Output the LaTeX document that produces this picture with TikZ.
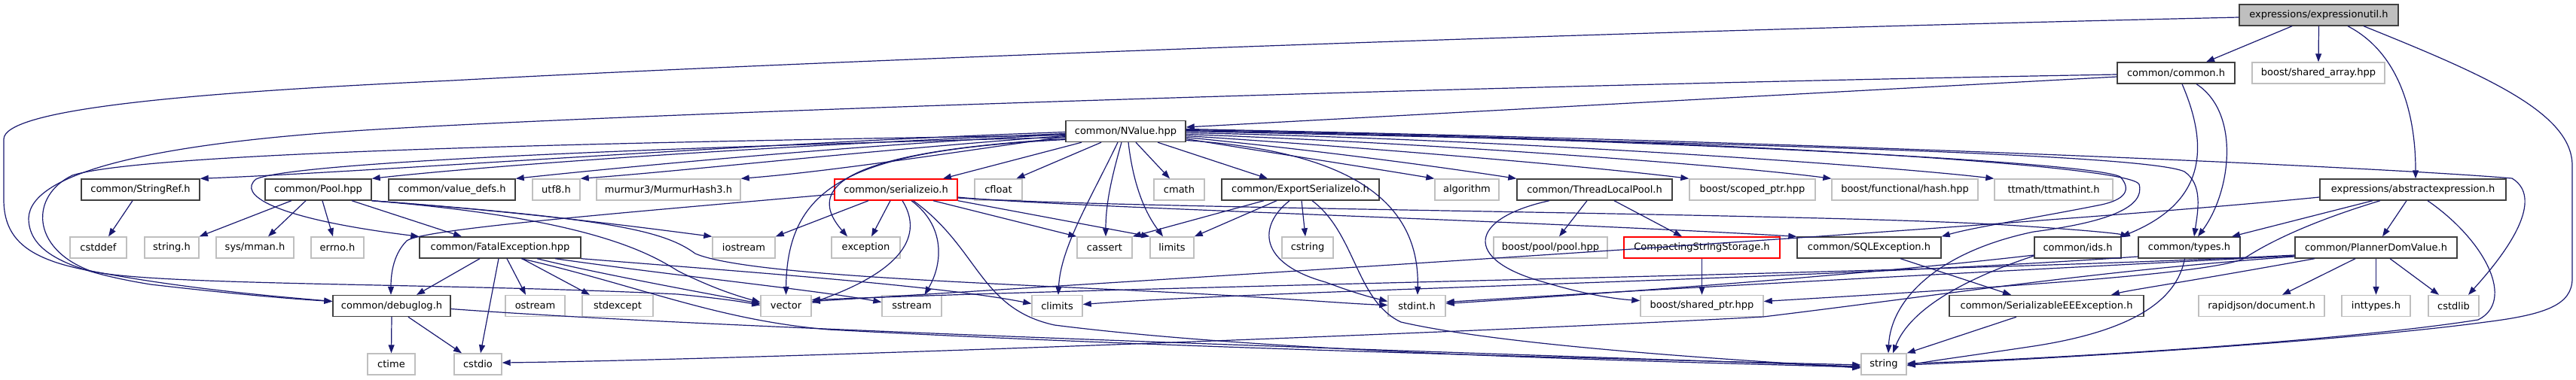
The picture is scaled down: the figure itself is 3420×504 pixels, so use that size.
\documentclass[tikz,border=0pt]{standalone}
\usepackage{fontspec}
\setmainfont{DejaVu Sans}
\usepackage{tikz}
\usetikzlibrary{arrows.meta}

\definecolor{incblue}{HTML}{191970}
\definecolor{sysgray}{HTML}{BFBFBF}
\definecolor{hdrdark}{HTML}{404040}

\tikzset{
  file/.style={draw=hdrdark, line width=1.4pt, minimum height=28pt, inner sep=0pt,
    font=\fontsize{13}{15}\selectfont},
  sysfile/.style={file, draw=sysgray},
  badfile/.style={file, draw=red},
  rootfile/.style={file, fill=sysgray},
  inc/.style={incblue, line width=1.2pt, -{Triangle[length=11pt,width=8pt]}},
}

\begin{document}
\begin{tikzpicture}[x=1pt,y=-1pt]
  \useasboundingbox (0,0) rectangle (3420,504);

  % the file itself and its direct includes
  \node[rootfile, minimum width=211pt] (expr) at (3078.5,20) {expressions/expressionutil.h};
  \node[file, minimum width=156pt] (common) at (2889,97) {common/common.h};
  \node[sysfile, minimum width=176pt] (sharedarr) at (3078,97) {boost/shared\_array.hpp};
  \node[file, minimum width=159pt] (nvalue) at (1494.5,174.5) {common/NValue.hpp};

  % third row
  \node[file, minimum width=157pt] (stringref) at (186.5,252) {common/StringRef.h};
  \node[file, minimum width=141pt] (pool) at (422.5,252) {common/Pool.hpp};
  \node[file, minimum width=168pt] (valuedefs) at (600,252) {common/value\_defs.h};
  \node[sysfile, minimum width=63pt] (utf8) at (738.5,252) {utf8.h};
  \node[sysfile, minimum width=191pt] (murmur) at (887.5,252) {murmur3/MurmurHash3.h};
  \node[badfile, minimum width=163pt] (serializeio) at (1189.5,252) {common/serializeio.h};
  \node[sysfile, minimum width=63pt] (cfloat) at (1325.5,252) {cfloat};
  \node[sysfile, minimum width=67pt] (cmath) at (1565.5,252) {cmath};
  \node[file, minimum width=209pt] (exportio) at (1726.5,252) {common/ExportSerializeIo.h};
  \node[sysfile, minimum width=85pt] (algorithm) at (1947.5,252) {algorithm};
  \node[file, minimum width=206pt] (tlpool) at (2117,252) {common/ThreadLocalPool.h};
  \node[sysfile, minimum width=167pt] (scoped) at (2326.5,252) {boost/scoped\_ptr.hpp};
  \node[sysfile, minimum width=194pt] (hash) at (2529,252) {boost/functional/hash.hpp};
  \node[sysfile, minimum width=157pt] (ttmath) at (2726.5,252) {ttmath/ttmathint.h};
  \node[file, minimum width=247pt] (abstract) at (3203.5,252) {expressions/abstractexpression.h};

  % fourth row
  \node[sysfile, minimum width=75pt] (cstddef) at (130.5,329) {cstddef};
  \node[sysfile, minimum width=72pt] (stringh) at (228,329) {string.h};
  \node[sysfile, minimum width=103pt] (mman) at (338.5,329) {sys/mman.h};
  \node[sysfile, minimum width=70pt] (errno) at (448,329) {errno.h};
  \node[file, minimum width=214pt] (fatal) at (664,329) {common/FatalException.hpp};
  \node[sysfile, minimum width=83pt] (iostream) at (987.5,329) {iostream};
  \node[sysfile, minimum width=91pt] (exception) at (1149.5,329) {exception};
  \node[sysfile, minimum width=73pt] (cassert) at (1466.5,329) {cassert};
  \node[sysfile, minimum width=58pt] (limits) at (1556,329) {limits};
  \node[sysfile, minimum width=68pt] (cstring) at (1736,329) {cstring};
  \node[sysfile, minimum width=151pt] (poolhpp) at (2058.5,329) {boost/pool/pool.hpp};
  \node[badfile, minimum width=207pt] (compacting) at (2259.5,329) {CompactingStringStorage.h};
  \node[file, minimum width=191pt] (sqlexc) at (2481.5,329) {common/SQLException.h};
  \node[file, minimum width=115pt] (ids) at (2758.5,329) {common/ids.h};
  \node[file, minimum width=135pt] (types) at (2906.5,329) {common/types.h};
  \node[file, minimum width=215pt] (planner) at (3154.5,329) {common/PlannerDomValue.h};

  % fifth row
  \node[file, minimum width=156pt] (debuglog) at (520,406.5) {common/debuglog.h};
  \node[sysfile, minimum width=79pt] (ostream) at (710.5,406.5) {ostream};
  \node[sysfile, minimum width=94pt] (stdexcept) at (820,406.5) {stdexcept};
  \node[sysfile, minimum width=67pt] (vector) at (1043.5,406.5) {vector};
  \node[sysfile, minimum width=79pt] (sstream) at (1210.5,406.5) {sstream};
  \node[sysfile, minimum width=67pt] (climits) at (1403.5,406.5) {climits};
  \node[sysfile, minimum width=76pt] (stdint) at (1881,406.5) {stdint.h};
  \node[sysfile, minimum width=163pt] (sharedptr) at (2259.5,406.5) {boost/shared\_ptr.hpp};
  \node[file, minimum width=258pt] (serializable) at (2717,406.5) {common/SerializableEEException.h};
  \node[sysfile, minimum width=167pt] (rapidjson) at (3002.5,406.5) {rapidjson/document.h};
  \node[sysfile, minimum width=91pt] (inttypes) at (3154.5,406.5) {inttypes.h};
  \node[sysfile, minimum width=67pt] (cstdlib) at (3257.5,406.5) {cstdlib};

  % bottom row
  \node[sysfile, minimum width=63pt] (ctime) at (519.5,484) {ctime};
  \node[sysfile, minimum width=63pt] (cstdio) at (634.5,484) {cstdio};
  \node[sysfile, minimum width=60pt] (string) at (2501,484) {string};

  % expressionutil.h
  \draw[inc] ([xshift=-35.5pt]expr.south) -- ([xshift=40pt]common.north);
  \draw[inc] (expr.south) -- (sharedarr.north);
  \draw[inc] ([xshift=38.5pt]expr.south) .. controls (3185,70) and (3207,150) .. ([xshift=3.5pt]abstract.north);
  \draw[inc] ([xshift=59.5pt]expr.south) .. controls (3300,100) and (3415,150) .. (3415,220) -- (3415,370)
    .. controls (3415,405) and (3380,418) .. (3300,428) .. controls (3100,455) and (2700,478) .. ([yshift=-1pt]string.east);
  \draw[inc] ([yshift=-3pt]expr.west) .. controls (2000,45) and (1000,85) .. (600,107)
    .. controls (250,123) and (5,145) .. (5,185) -- (5,265) .. controls (5,320) and (40,345) .. (120,360)
    .. controls (250,385) and (380,395) .. ([yshift=6pt]debuglog.west);

  % common/common.h
  \draw[inc] ([yshift=-5pt]common.west) -- ([yshift=5.5pt]nvalue.east);
  \draw[inc] ([yshift=-2pt]common.west) .. controls (2000,113) and (900,148) .. (500,172)
    .. controls (200,190) and (40,230) .. (38,290) .. controls (38,335) and (90,360) .. (200,378)
    .. controls (330,393) and (400,398) .. ([yshift=6pt]debuglog.west);
  \draw[inc] ([xshift=27pt]common.south) .. controls (2975,150) and (2962,255) .. ([xshift=11.5pt]types.north);
  \draw[inc] ([xshift=8pt]common.south) .. controls (2935,200) and (2925,270) .. (ids.north east);

  % common/NValue.hpp, to the left
  \draw[inc] ([yshift=-1pt]nvalue.west) .. controls (1000,190) and (500,228) .. (stringref.north east);
  \draw[inc] ([yshift=-3pt]nvalue.west) .. controls (1000,195) and (650,220) .. (pool.north east);
  \draw[inc] ([yshift=-4pt]nvalue.west) .. controls (1100,195) and (800,225) .. (valuedefs.north east);
  \draw[inc] ([yshift=-6pt]nvalue.west) .. controls (1150,200) and (900,228) .. (utf8.north east);
  \draw[inc] ([yshift=-7pt]nvalue.west) .. controls (1250,205) and (1100,228) .. (murmur.north east);
  \draw[inc] ([yshift=-8pt]nvalue.west) .. controls (900,195) and (390,215) .. (340,238)
    .. controls (315,258) and (360,290) .. (fatal.north west);
  \draw[inc] ([yshift=-10pt]nvalue.west) .. controls (1150,200) and (1060,240) .. ([xshift=-24.5pt]exception.north);
  \draw[inc] ([yshift=-11pt]nvalue.west) .. controls (1140,200) and (1045,240) .. (vector.north);
  \draw[inc] ([yshift=-5pt]nvalue.west) .. controls (900,188) and (200,200) .. (96,233)
    .. controls (40,260) and (40,330) .. (120,360) .. controls (200,380) and (600,376) .. (900,391)
    .. controls (950,396) and (980,400) .. ([yshift=1pt]vector.west);

  % common/NValue.hpp, downwards
  \draw[inc] ([xshift=-58.5pt]nvalue.south) -- ([xshift=62.5pt]serializeio.north);
  \draw[inc] ([xshift=-32.5pt]nvalue.south) -- ([xshift=24pt]cfloat.north);
  \draw[inc] ([xshift=-10.5pt]nvalue.south) .. controls (1445,270) and (1408,330) .. ([xshift=1.5pt]climits.north);
  \draw[inc] ([xshift=-5.5pt]nvalue.south) .. controls (1476,235) and (1468,270) .. ([xshift=1.5pt]cassert.north);
  \draw[inc] ([xshift=3.5pt]nvalue.south) .. controls (1505,250) and (1522,285) .. ([xshift=-12pt]limits.north);
  \draw[inc] ([xshift=13.5pt]nvalue.south) -- ([xshift=-12.5pt]cmath.north);
  \draw[inc] ([xshift=42.5pt]nvalue.south) -- ([xshift=-43.5pt]exportio.north);

  % common/NValue.hpp, to the right
  \draw[inc] ([yshift=-10pt]nvalue.east) .. controls (1700,205) and (1800,220) .. (algorithm.north west);
  \draw[inc] ([yshift=-8pt]nvalue.east) .. controls (1750,200) and (1900,220) .. (tlpool.north west);
  \draw[inc] ([yshift=-6pt]nvalue.east) .. controls (1800,195) and (2100,220) .. (scoped.north west);
  \draw[inc] ([yshift=-4pt]nvalue.east) .. controls (1900,190) and (2300,220) .. (hash.north west);
  \draw[inc] ([yshift=-2pt]nvalue.east) .. controls (2000,185) and (2500,220) .. (ttmath.north west);
  \draw[inc] ([yshift=-12pt]nvalue.east) .. controls (1780,200) and (1885,260) .. ([xshift=1pt]stdint.north);
  \draw[inc] ([yshift=1pt]nvalue.east) .. controls (2200,185) and (2780,215) .. (2815,235)
    .. controls (2830,252) and (2822,265) .. (2790,272) .. controls (2700,290) and (2620,302) .. (sqlexc.north east);
  \draw[inc] ([yshift=2pt]nvalue.east) .. controls (2300,185) and (2830,220) .. (2840,245)
    .. controls (2848,275) and (2800,295) .. (2700,308) .. controls (2570,335) and (2510,400) .. ([xshift=6pt]string.north);
  \draw[inc] (nvalue.east) .. controls (2300,190) and (2850,205) .. (2900,228)
    .. controls (2925,245) and (2918,280) .. ([xshift=6.5pt]types.north);
  \draw[inc] ([yshift=3pt]nvalue.east) .. controls (2500,190) and (3200,225) .. (3335,237)
    .. controls (3365,255) and (3360,300) .. ([xshift=19.5pt]cstdlib.north);

  % common/StringRef.h and common/Pool.hpp
  \draw[inc] ([xshift=-10.5pt]stringref.south) -- ([xshift=13.5pt]cstddef.north);
  \draw[inc] ([xshift=-35.5pt]pool.south) -- (stringh.north east);
  \draw[inc] ([xshift=-16.5pt]pool.south) -- ([xshift=17.5pt]mman.north);
  \draw[inc] ([xshift=5.5pt]pool.south) -- ([xshift=-6pt]errno.north);
  \draw[inc] ([xshift=44.5pt]pool.south) -- ([xshift=-51pt]fatal.north);
  \draw[inc] (pool.south east) .. controls (700,282) and (850,302) .. (iostream.north west);
  \draw[inc] (pool.south east) .. controls (780,290) and (860,335) .. (900,360)
    .. controls (950,385) and (985,395) .. ([yshift=5pt]vector.west);
  \draw[inc] (pool.south east) .. controls (800,290) and (880,305) .. (923,337)
    .. controls (1000,370) and (1400,378) .. (1670,395) .. controls (1750,400) and (1800,404) .. ([yshift=1pt]stdint.west);

  % common/FatalException.hpp
  \draw[inc] ([xshift=-27pt]fatal.south) -- ([xshift=33pt]debuglog.north);
  \draw[inc] ([xshift=-2pt]fatal.south) -- ([xshift=3.5pt]cstdio.north);
  \draw[inc] ([xshift=9pt]fatal.south) -- ([xshift=-12.5pt]ostream.north);
  \draw[inc] ([xshift=29pt]fatal.south) -- ([xshift=-37pt]stdexcept.north);
  \draw[inc] ([xshift=49pt]fatal.south) .. controls (800,365) and (950,392) .. ([yshift=3pt]vector.west);
  \draw[inc] ([xshift=73pt]fatal.south) .. controls (900,367) and (1080,385) .. ([yshift=5pt]sstream.west);
  \draw[inc] (fatal.south east) .. controls (1000,362) and (1250,380) .. ([yshift=3pt]climits.west);
  \draw[inc] ([xshift=28pt]fatal.south) .. controls (850,380) and (950,425) .. (1100,438)
    .. controls (1600,465) and (2200,478) .. ([yshift=-1pt]string.west);

  % common/debuglog.h
  \draw[inc] (debuglog.south) -- (ctime.north);
  \draw[inc] ([xshift=22pt]debuglog.south) -- ([xshift=-21.5pt]cstdio.north);
  \draw[inc] ([yshift=-4pt]debuglog.east) .. controls (1000,440) and (2000,470) .. ([yshift=-3pt]string.west);

  % common/serializeio.h
  \draw[inc] ([yshift=-6pt]serializeio.west) .. controls (800,285) and (560,305) .. (540,320)
    .. controls (520,340) and (519,370) .. ([xshift=-1pt]debuglog.north);
  \draw[inc] ([xshift=-36.5pt]serializeio.south) -- (iostream.north east);
  \draw[inc] ([xshift=-7.5pt]serializeio.south) -- ([xshift=7.5pt]exception.north);
  \draw[inc] ([xshift=8.5pt]serializeio.south) .. controls (1222,305) and (1212,355) .. ([yshift=4pt]vector.east);
  \draw[inc] ([xshift=20.5pt]serializeio.south) .. controls (1255,300) and (1252,350) .. ([xshift=17pt]sstream.north);
  \draw[inc] ([xshift=23pt]serializeio.south) .. controls (1300,330) and (1300,410) .. (1400,432)
    .. controls (1700,470) and (2200,480) .. ([yshift=-4pt]string.west);
  \draw[inc] ([xshift=49.5pt]serializeio.south) -- (cassert.north west);
  \draw[inc] (serializeio.south east) -- (limits.north west);
  \draw[inc] ([yshift=-10pt]serializeio.east) .. controls (1400,275) and (2000,292) .. (sqlexc.north west);
  \draw[inc] ([yshift=-11pt]serializeio.east) .. controls (1500,278) and (2400,283) .. (2663,299)
    .. controls (2760,305) and (2810,310) .. ([xshift=-12pt]types.north west);

  % common/ExportSerializeIo.h
  \draw[inc] ([xshift=-48.5pt]exportio.south) -- (cassert.north east);
  \draw[inc] ([xshift=-31.5pt]exportio.south) -- (limits.north east);
  \draw[inc] ([xshift=1.5pt]exportio.south) -- ([xshift=-3pt]cstring.north);
  \draw[inc] ([xshift=-14.5pt]exportio.south) .. controls (1670,300) and (1670,350) .. (1760,375)
    .. controls (1800,390) and (1820,395) .. ([yshift=6pt]stdint.west);
  \draw[inc] ([xshift=15.5pt]exportio.south) .. controls (1800,310) and (1800,400) .. (1860,428)
    .. controls (2000,460) and (2300,478) .. ([yshift=-5pt]string.west);

  % common/ThreadLocalPool.h
  \draw[inc] ([xshift=-10pt]tlpool.south) -- ([xshift=11.5pt]poolhpp.north);
  \draw[inc] ([xshift=26pt]tlpool.south) -- ([xshift=-26.5pt]compacting.north);
  \draw[inc] ([xshift=-60pt]tlpool.south) .. controls (1950,290) and (1940,345) .. (2050,375)
    .. controls (2100,390) and (2140,397) .. ([yshift=7pt]sharedptr.west);
  \draw[inc] (compacting.south) -- (sharedptr.north);

  % exceptions, ids, types
  \draw[inc] ([xshift=41.5pt]sqlexc.south) -- ([xshift=-47pt]serializable.north);
  \draw[inc] ([xshift=-40pt]serializable.south) -- (string.north east);
  \draw[inc] ([yshift=-11pt]ids.west) .. controls (2640,360) and (2540,400) .. ([xshift=12pt]string.north);
  \draw[inc] ([yshift=-10pt]ids.west) .. controls (2450,368) and (2100,392) .. ([yshift=3pt]stdint.east);
  \draw[inc] ([xshift=-6pt]types.south) .. controls (2890,400) and (2830,440) .. (2700,460)
    .. controls (2600,475) and (2560,480) .. ([yshift=-2pt]string.east);
  \draw[inc] ([yshift=-12pt]types.west) .. controls (2400,372) and (1700,385) .. ([yshift=2pt]climits.east);

  % expressions/abstractexpression.h
  \draw[inc] ([xshift=-53.5pt]abstract.south) -- ([xshift=56.5pt]types.north);
  \draw[inc] ([xshift=-8.5pt]abstract.south) -- ([xshift=8.5pt]planner.north);
  \draw[inc] ([xshift=19.5pt]abstract.south) .. controls (3300,320) and (3340,400) .. (3290,425)
    .. controls (3100,455) and (2700,478) .. ([yshift=1pt]string.east);
  \draw[inc] ([xshift=-43.5pt]abstract.south) .. controls (3050,300) and (3000,330) .. (2980,343)
    .. controls (2940,365) and (2600,385) .. ([yshift=6pt]sharedptr.east);
  \draw[inc] ([yshift=-10pt]abstract.west) .. controls (2700,300) and (1600,368) .. ([yshift=6pt]vector.east);

  % common/PlannerDomValue.h
  \draw[inc] ([xshift=-27.5pt]planner.south) -- ([xshift=27.5pt]rapidjson.north);
  \draw[inc] (planner.south) -- (inttypes.north);
  \draw[inc] ([xshift=18.5pt]planner.south) -- ([xshift=-19.5pt]cstdlib.north);
  \draw[inc] ([xshift=-81.5pt]planner.south) .. controls (2900,375) and (2830,385) .. ([xshift=86pt]serializable.north);
  \draw[inc] ([yshift=-10pt]planner.west) .. controls (2600,362) and (1600,378) .. ([yshift=8pt]vector.east);
  \draw[inc] ([yshift=-11pt]planner.west) .. controls (2500,368) and (2100,390) .. ([yshift=5pt]stdint.east);
  \draw[inc] ([yshift=-12pt]planner.west) .. controls (2780,360) and (2580,392) .. (2341,421)
    .. controls (2000,440) and (1000,478) .. ([yshift=2pt]cstdio.east);

\end{tikzpicture}
\end{document}
